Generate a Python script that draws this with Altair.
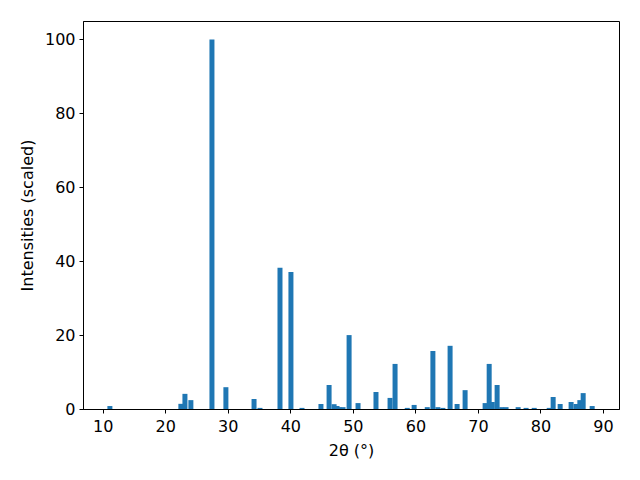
import altair as alt
import pandas as pd

two_theta = [11.15, 22.5, 23.15, 24.1, 27.47, 29.7, 34.2, 35.15, 38.35, 40.1,
             41.87, 44.9, 46.2, 47.0, 47.47, 47.8, 48.43, 49.4, 50.83, 53.7,
             55.95, 56.75, 58.7, 59.8, 61.9, 62.8, 63.6, 64.4, 65.55, 66.67,
             67.95, 71.15, 71.8, 72.3, 73.07, 73.8, 74.5, 76.43, 77.7, 79.0,
             81.4, 82.03, 83.15, 84.9, 85.7, 86.3, 86.83, 88.27]
intensity = [0.8, 1.4, 4.1, 2.4, 100.0, 5.9, 2.7, 0.3, 38.2, 37.1,
             0.3, 1.35, 6.5, 1.3, 0.8, 0.5, 0.5, 20.0, 1.6, 4.6,
             3.0, 12.2, 0.3, 1.1, 0.5, 15.7, 0.5, 0.3, 17.1, 1.35,
             5.1, 1.6, 12.2, 1.9, 6.5, 0.5, 0.5, 0.5, 0.3, 0.3,
             0.3, 3.25, 1.35, 1.9, 1.35, 2.4, 4.3, 0.8]
bar_width = 0.8
x_ticks = [10, 20, 30, 40, 50, 60, 70, 80, 90]
y_ticks = [0, 20, 40, 60, 80, 100]

df = pd.DataFrame({"pos": two_theta, "inten": intensity, "order": range(len(two_theta))})

chart = alt.Chart(df).transform_calculate(
    x0=f"datum.pos - {bar_width / 2}",
    x1=f"datum.pos + {bar_width / 2}",
).mark_bar(color="#1f77b4", strokeWidth=0).encode(
    x=alt.X("x0:Q", scale=alt.Scale(domain=[6.85, 92.56], nice=False, zero=False),
            axis=alt.Axis(values=x_ticks, title="2θ (°)", format="d", grid=False,
                          labelPadding=5, titlePadding=8)),
    x2="x1:Q",
    y=alt.Y("inten:Q", scale=alt.Scale(domain=[0, 105], nice=False),
            axis=alt.Axis(values=y_ticks, title="Intensities (scaled)", grid=False,
                          labelPadding=4, titlePadding=9)),
    y2=alt.Y2(datum=0),
    order="order:Q",
).properties(
    width=536, height=388,
    autosize=alt.AutoSizeParams(type="none"),
    padding={"left": 75, "top": 13, "right": 13, "bottom": 53},
).configure_view(
    stroke="black", strokeWidth=1
).configure_axis(
    labelFont="DejaVu Sans", titleFont="DejaVu Sans",
    labelFontSize=16, titleFontSize=16, titleFontWeight="normal",
    labelColor="black", titleColor="black",
    domainColor="black", tickColor="black", tickSize=4,
)

chart.save("out.html", embed_options={"renderer": "svg", "actions": False})
